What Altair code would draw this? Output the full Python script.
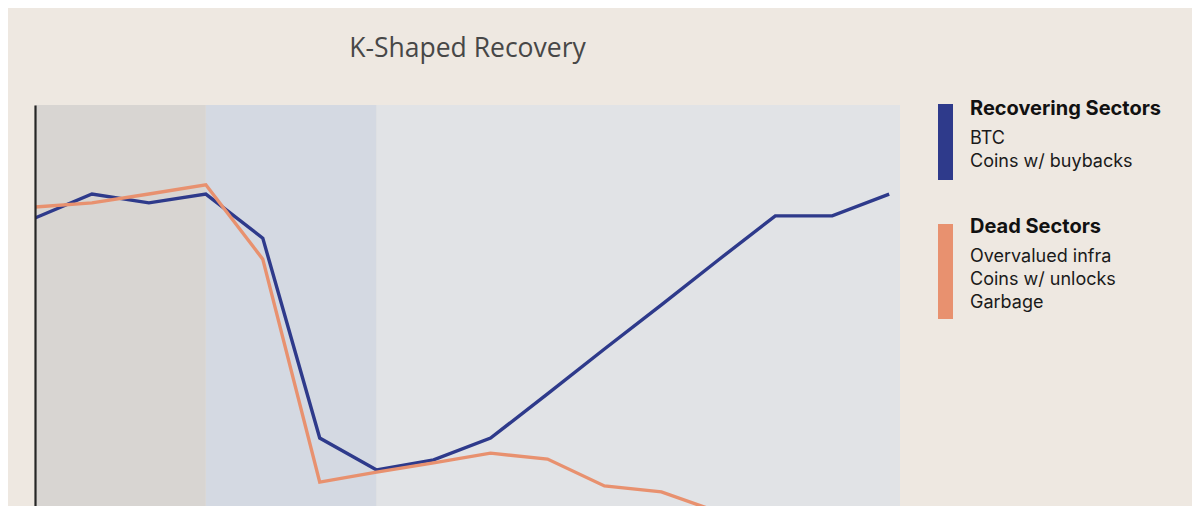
import altair as alt
import pandas as pd

# ---- data ----
steps = list(range(16))
recovering = [73.1, 78.8, 76.7, 78.8, 68.3, 20.7, 13.1, 15.5, 20.7, 31.2, 41.9, 52.4, 63.1, 73.6, 73.6, 78.8]
dead = [75.7, 76.7, 78.8, 81.0, 63.3, 10.2, 12.6, 14.8, 17.1, 15.7, 9.3, 7.9, 3.1, -3.0, -8.0, -12.0]

band_start = [0, 3, 6]
band_end = [3, 6, 15.19]
band_color = ["#d8d5d2", "#d4d9e2", "#e1e3e6"]

series_names = ["Recovering Sectors", "Dead Sectors"]
series_colors = ["#2e3a8b", "#e8916f"]
legend_items = {
    "Recovering Sectors": ["BTC", "Coins w/ buybacks"],
    "Dead Sectors": ["Overvalued infra", "Coins w/ unlocks", "Garbage"],
}
title_text = "K-Shaped Recovery"

W, H = 865, 420
BG = "#eee8e1"

lines_df = pd.DataFrame(
    [{"step": s, "value": v, "series": series_names[0]} for s, v in zip(steps, recovering)]
    + [{"step": s, "value": v, "series": series_names[1]} for s, v in zip(steps, dead)]
)
bands_df = pd.DataFrame({"start": band_start, "end": band_end, "color": band_color})

xscale = alt.Scale(domain=[0, 15.19], nice=False, zero=False)
yscale = alt.Scale(domain=[0, 100], nice=False, zero=False)

bands = alt.Chart(bands_df).mark_rect().encode(
    x=alt.X("start:Q", scale=xscale, axis=None),
    x2="end:Q",
    y=alt.value(0),
    y2=alt.value(H),
    color=alt.Color("color:N", scale=None, legend=None),
)

lines = alt.Chart(lines_df).mark_line(strokeWidth=3.4, clip=True).encode(
    x=alt.X("step:Q", scale=xscale, axis=None),
    y=alt.Y("value:Q", scale=yscale,
            axis=alt.Axis(domain=True, domainColor="#262626", domainWidth=2.2, zindex=1,
                          labels=False, ticks=False, grid=False, title=None)),
    color=alt.Color("series:N", scale=alt.Scale(domain=series_names, range=series_colors), legend=None),
    detail="series:N",
)

# ---- custom legend ----
LX = 935  # text left, relative to plot origin
bar_x, bar_x2 = 903, 918
layers = [bands, lines]
header_y = [10, 128]
bar_spans = [(-1, 75), (119, 214)]
for i, name in enumerate(series_names):
    y0, y1 = bar_spans[i]
    layers.append(
        alt.Chart(pd.DataFrame({"s": [name]})).mark_rect(color=series_colors[i]).encode(
            x=alt.value(bar_x), x2=alt.value(bar_x2), y=alt.value(y0), y2=alt.value(y1)
        )
    )
    layers.append(
        alt.Chart(pd.DataFrame({"t": [name]})).mark_text(
            align="left", baseline="alphabetic", font="Inter", fontSize=20,
            fontWeight="bold", color="#111111"
        ).encode(text="t:N", x=alt.value(LX), y=alt.value(header_y[i]))
    )
    for j, item in enumerate(legend_items[name]):
        layers.append(
            alt.Chart(pd.DataFrame({"t": [item]})).mark_text(
                align="left", baseline="alphabetic", font="Inter", fontSize=18,
                color="#1a1a1a"
            ).encode(text="t:N", x=alt.value(LX), y=alt.value(header_y[i] + 29 + 23 * j))
        )

title = alt.Chart(pd.DataFrame({"t": [title_text]})).mark_text(
    align="center", baseline="alphabetic", font="Open Sans", fontSize=26.5, color="#474747"
).encode(text="t:N", x=alt.value(W / 2), y=alt.value(-48))
layers.append(title)

chart = alt.layer(*layers).properties(
    width=W, height=H,
    autosize=alt.AutoSizeParams(type="none"),
    padding={"left": 27, "top": 97, "right": 292, "bottom": 0},
    background=BG,
).configure_view(stroke=None)

chart.save("out.html", embed_options={"renderer": "svg", "actions": False})
